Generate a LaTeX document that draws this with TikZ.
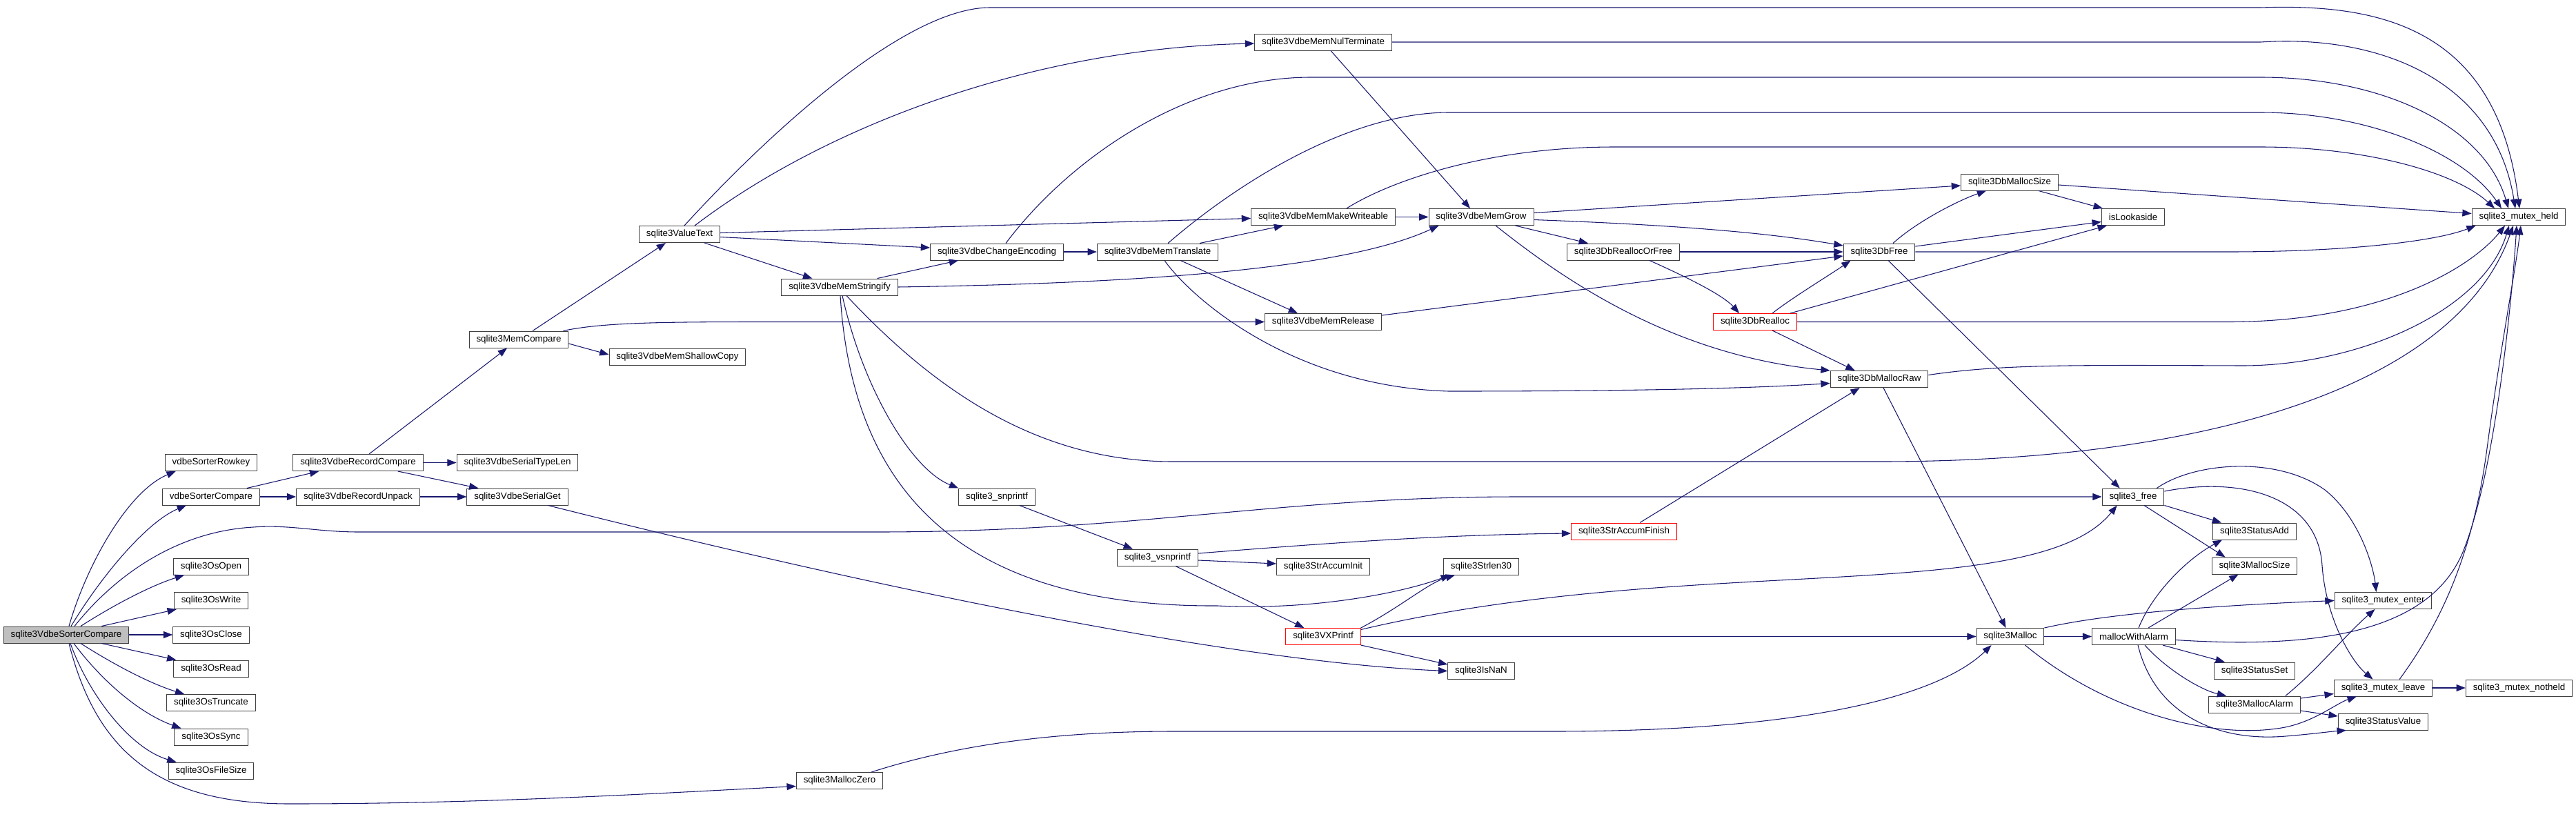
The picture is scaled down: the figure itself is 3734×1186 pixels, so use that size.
\documentclass[tikz,border=0pt]{standalone}
\usepackage{fontspec}
\setmainfont{Liberation Sans}
\usetikzlibrary{arrows.meta,calc}
\definecolor{edgec}{HTML}{191970}
\definecolor{mainfill}{HTML}{BFBFBF}
\definecolor{redb}{HTML}{FF0000}
\definecolor{boxb}{HTML}{404040}
\begin{document}
\begin{tikzpicture}[x=0.75pt,y=-0.75pt,
 box/.style={draw=boxb,line width=0.75pt,fill=white,rectangle,minimum height=18pt,inner xsep=7.8pt,inner ysep=0pt,font=\fontsize{10}{12}\selectfont},
 redbox/.style={box,draw=redb},
 mainbox/.style={box,fill=mainfill},
 e/.style={draw=edgec,line width=0.8pt,-{Triangle[length=10pt,width=7.5pt]}}]
\useasboundingbox[fill=white] (0,0) rectangle (3734,1186);

% nodes
\node[mainbox] (main) at (96,920) {sqlite3VdbeSorterCompare};
\node[box] (rowkey) at (306,670.5) {vdbeSorterRowkey};
\node[box] (sortcmp) at (306,720) {vdbeSorterCompare};
\node[box] (osopen) at (306,821) {sqlite3OsOpen};
\node[box] (oswrite) at (306,870.5) {sqlite3OsWrite};
\node[box] (osclose) at (306,920) {sqlite3OsClose};
\node[box] (osread) at (306,969) {sqlite3OsRead};
\node[box] (ostrunc) at (306,1018.5) {sqlite3OsTruncate};
\node[box] (ossync) at (306,1068) {sqlite3OsSync};
\node[box] (osfsize) at (306,1117) {sqlite3OsFileSize};
\node[box] (reccmp) at (519,670.5) {sqlite3VdbeRecordCompare};
\node[box] (recunp) at (519,720) {sqlite3VdbeRecordUnpack};
\node[box] (typelen) at (750,670.5) {sqlite3VdbeSerialTypeLen};
\node[box] (serget) at (750,720) {sqlite3VdbeSerialGet};
\node[box] (memcmp) at (752,492) {sqlite3MemCompare};
\node[box] (shallow) at (982,517) {sqlite3VdbeMemShallowCopy};
\node[box] (valtext) at (985,339.5) {sqlite3ValueText};
\node[box] (stringify) at (1217,416) {sqlite3VdbeMemStringify};
\node[box] (chenc) at (1445,365) {sqlite3VdbeChangeEncoding};
\node[box] (memtr) at (1678,365) {sqlite3VdbeMemTranslate};
\node[box] (nulterm) at (1918,61) {sqlite3VdbeMemNulTerminate};
\node[box] (mkwrite) at (1918,314.5) {sqlite3VdbeMemMakeWriteable};
\node[box] (memrel) at (1918,466.5) {sqlite3VdbeMemRelease};
\node[box] (snpr) at (1445,720) {sqlite3\_snprintf};
\node[box] (vsnpr) at (1678,808) {sqlite3\_vsnprintf};
\node[box] (accinit) at (1918,821) {sqlite3StrAccumInit};
\node[redbox] (vxpr) at (1918,922.5) {sqlite3VXPrintf};
\node[box] (strlen) at (2147,821) {sqlite3Strlen30};
\node[box] (isnan) at (2147,972.5) {sqlite3IsNaN};
\node[box] (mzero) at (1217,1131.5) {sqlite3MallocZero};
\node[box] (memgrow) at (2147,314.5) {sqlite3VdbeMemGrow};
\node[box] (reorfree) at (2353,365) {sqlite3DbReallocOrFree};
\node[redbox] (dbrealloc) at (2544,466.5) {sqlite3DbRealloc};
\node[redbox] (accfin) at (2354,770) {sqlite3StrAccumFinish};
\node[box] (dbfree) at (2724,365) {sqlite3DbFree};
\node[box] (dbraw) at (2724,549.5) {sqlite3DbMallocRaw};
\node[box] (dbmsize) at (2913,264) {sqlite3DbMallocSize};
\node[box] (malloc) at (2914,922.5) {sqlite3Malloc};
\node[box] (lookaside) at (3092,314.5) {isLookaside};
\node[box] (free) at (3092,720) {sqlite3\_free};
\node[box] (mwa) at (3093,922.5) {mallocWithAlarm};
\node[box] (stadd) at (3268,770) {sqlite3StatusAdd};
\node[box] (msize) at (3268,820) {sqlite3MallocSize};
\node[box] (stset) at (3268,972) {sqlite3StatusSet};
\node[box] (malarm) at (3268,1021) {sqlite3MallocAlarm};
\node[box] (menter) at (3454.5,870.5) {sqlite3\_mutex\_enter};
\node[box] (mleave) at (3454.5,997) {sqlite3\_mutex\_leave};
\node[box] (stval) at (3454.5,1046) {sqlite3StatusValue};
\node[box] (mheld) at (3651,314.5) {sqlite3\_mutex\_held};
\node[box] (notheld) at (3651.5,997) {sqlite3\_mutex\_notheld};

% main fan-out
\draw[e] ($(main.north)+(4,0)$) .. controls (125,820) and (185,712) .. ($(rowkey.south west)+(16,0)$);
\draw[e] ($(main.north)+(7,0)$) .. controls (150,830) and (215,755) .. ($(sortcmp.south west)+(35,0)$);
\draw[e] ($(main.north)+(12,0)$) .. controls (170,830) and (260,770) .. (367,764) .. controls (420,760) and (460,771) .. (520,771) -- (1270,771) .. controls (1650,771) and (1850,720) .. (2200,720) -- (free.west);
\draw[e] ($(main.north)+(21,0)$) .. controls (160,880) and (215,850) .. ($(osopen.south west)+(16,0)$);
\draw[e] ($(main.north east)+(-40,0)$) -- ($(oswrite.south west)+(4,0)$);
\draw[e] (main) -- (osclose);
\draw[e] ($(main.south east)+(-40,0)$) -- ($(osread.north west)+(4,0)$);
\draw[e] ($(main.south)+(21,0)$) .. controls (160,960) and (215,990) .. ($(ostrunc.north west)+(26,0)$);
\draw[e] ($(main.south)+(11,0)$) .. controls (150,990) and (205,1035) .. ($(ossync.north west)+(10,0)$);
\draw[e] ($(main.south)+(6,0)$) .. controls (130,1010) and (190,1085) .. ($(osfsize.north west)+(12,0)$);
\draw[e] ($(main.south)+(4,0)$) .. controls (140,1090) and (230,1165) .. (420,1165) .. controls (700,1165) and (950,1150) .. ($(mzero.west)+(0,8)$);

% record compare group
\draw[e] ($(sortcmp.north east)+(-19,0)$) -- ($(reccmp.south west)+(38,0)$);
\draw[e] (sortcmp) -- (recunp);
\draw[e] (reccmp) -- (typelen);
\draw[e] ($(reccmp.south east)+(-37,0)$) -- ($(serget.north west)+(17,0)$);
\draw[e] (recunp) -- (serget);
\draw[e] ($(reccmp.north)+(16,0)$) -- ($(memcmp.south)+(-17,0)$);
\draw[e] ($(serget.south east)+(-29,0)$) .. controls (1300,860) and (1800,960) .. (isnan.west);

% mem compare
\draw[e] ($(memcmp.north)+(20,0)$) -- ($(valtext.south west)+(39,0)$);
\draw[e] ($(memcmp.north east)+(-8,0)$) .. controls (870,468) and (950,466.5) .. (1100,466.5) -- (memrel.west);
\draw[e] ($(memcmp.east)+(0,6)$) -- ($(shallow.west)+(0,-3)$);

% value text
\draw[e] ($(valtext.south east)+(-23,0)$) -- ($(stringify.north west)+(45,0)$);
\draw[e] ($(valtext.east)+(0,4)$) -- ($(chenc.west)+(0,-6)$);
\draw[e] ($(valtext.east)+(0,-2)$) -- ($(mkwrite.west)+(0,2)$);
\draw[e] ($(valtext.north)+(22,0)$) .. controls (1200,180) and (1500,70) .. ($(nulterm.west)+(0,2)$);
\draw[e] ($(valtext.north)+(7,0)$) .. controls (1080,230) and (1300,11) .. (1435,11) -- (3277,11) .. controls (3450,5) and (3620,40) .. ($(mheld.north)+(1,0)$);

% nul terminate, change encoding, translate, make writeable
\draw[e] (nulterm.east) -- (3277,61) .. controls (3440,50) and (3615,110) .. ($(mheld.north)+(-5,0)$);
\draw[e] ($(nulterm.south)+(11,0)$) -- ($(memgrow.north)+(-16,0)$);
\draw[e] ($(chenc.north)+(13,0)$) .. controls (1550,230) and (1720,112) .. (1900,112) -- (3277,112) .. controls (3450,112) and (3600,180) .. ($(mheld.north)+(-15,0)$);
\draw[e] ($(memtr.north)+(15,0)$) .. controls (1800,260) and (1960,163) .. (2100,163) -- (3277,163) .. controls (3430,163) and (3570,220) .. ($(mheld.north)+(-25,0)$);
\draw[e] ($(mkwrite.north)+(34,0)$) .. controls (2010,265) and (2150,213) .. (2340,213) -- (3277,213) .. controls (3430,213) and (3560,250) .. ($(mheld.north)+(-35,0)$);
\draw[e] (mkwrite) -- (memgrow);
\draw[e] (chenc) -- (memtr);
\draw[e] ($(memtr.north east)+(-27,0)$) -- ($(mkwrite.south west)+(47,0)$);
\draw[e] ($(memtr.south east)+(-55,0)$) -- ($(memrel.north west)+(48,0)$);
\draw[e] ($(memtr.south)+(10,0)$) .. controls (1725,430) and (1870,560) .. (2100,567) .. controls (2400,567) and (2550,562) .. ($(dbraw.west)+(0,6)$);

% stringify
\draw[e] ($(stringify.north east)+(-30,0)$) -- ($(chenc.south west)+(41,0)$);
\draw[e] (stringify.east) .. controls (1700,410) and (1960,385) .. ($(memgrow.south west)+(15,0)$);
\draw[e] ($(stringify.south)+(4,0)$) .. controls (1250,560) and (1320,680) .. (snpr.north west);
\draw[e] ($(stringify.south)+(1,0)$) .. controls (1235,700) and (1380,880) .. (1765,878) .. controls (1900,885) and (2030,860) .. ($(strlen.south west)+(10,0)$);
\draw[e] ($(stringify.south)+(10,0)$) .. controls (1350,560) and (1500,669) .. (1700,669) -- (2725,669) .. controls (3200,669) and (3560,560) .. ($(mheld.south)+(-8,0)$);

% mem release
\draw[e] ($(memrel.north east)+(0,3)$) -- ($(dbfree.west)+(0,6)$);

% mem grow
\draw[e] ($(memgrow.east)+(0,-6)$) -- ($(dbmsize.west)+(0,5)$);
\draw[e] ($(memgrow.east)+(0,4)$) .. controls (2400,325) and (2550,335) .. ($(dbfree.west)+(0,-9)$);
\draw[e] ($(memgrow.south east)+(-27,0)$) -- ($(reorfree.north west)+(31,0)$);
\draw[e] ($(memgrow.south)+(21,0)$) .. controls (2260,400) and (2420,515) .. (dbraw.north west);

% realloc or free, realloc
\draw[e] (reorfree) -- (dbfree);
\draw[e] ($(reorfree.south east)+(-44,0)$) .. controls (2430,395) and (2495,425) .. ($(dbrealloc.north west)+(38,0)$);
\draw[e] ($(dbrealloc.north)+(25,0)$) .. controls (2600,430) and (2650,400) .. ($(dbfree.south west)+(11,0)$);
\draw[e] ($(dbrealloc.north east)+(-10,0)$) -- ($(lookaside.south west)+(8,0)$);
\draw[e] ($(dbrealloc.south)+(25,0)$) -- ($(dbraw.north west)+(36,0)$);
\draw[e] (dbrealloc.east) -- (3230,466.5) .. controls (3450,466.5) and (3580,390) .. ($(mheld.south)+(-20,0)$);

% db free
\draw[e] ($(dbfree.north)+(20,0)$) .. controls (2780,320) and (2840,290) .. ($(dbmsize.south west)+(37,0)$);
\draw[e] ($(dbfree.east)+(0,-8)$) -- ($(lookaside.west)+(0,7)$);
\draw[e] (dbfree.east) -- (3230,365) .. controls (3400,365) and (3530,350) .. ($(mheld.south west)+(6,0)$);
\draw[e] ($(dbfree.south)+(13,0)$) -- ($(free.north west)+(26,0)$);

% db malloc size
\draw[e] ($(dbmsize.south east)+(-29,0)$) -- ($(lookaside.north west)+(2,0)$);
\draw[e] ($(dbmsize.east)+(0,4)$) -- ($(mheld.west)+(0,-5)$);

% db malloc raw, accum finish
\draw[e] ($(dbraw.east)+(0,-6)$) .. controls (2900,528) and (3000,529) .. (3250,530) .. controls (3420,530) and (3600,450) .. ($(mheld.south)+(-14,0)$);
\draw[e] ($(dbraw.south)+(6,0)$) -- ($(malloc.north west)+(43,0)$);
\draw[e] ($(accfin.north)+(23,0)$) -- ($(dbraw.south west)+(43,0)$);

% printf group
\draw[e] ($(snpr.south east)+(-23,0)$) -- ($(vsnpr.north west)+(23,0)$);
\draw[e] ($(vsnpr.east)+(0,-6)$) .. controls (1950,785) and (2100,775) .. ($(accfin.west)+(0,3)$);
\draw[e] ($(vsnpr.east)+(0,4)$) -- ($(accinit.west)+(0,-4)$);
\draw[e] ($(vsnpr.south east)+(-33,0)$) -- ($(vxpr.north west)+(27,0)$);
\draw[e] (vxpr.north east) .. controls (2030,880) and (2070,845) .. ($(strlen.south west)+(17,0)$);
\draw[e] ($(vxpr.east)+(0,-10)$) .. controls (2450,800) and (2950,880) .. ($(free.south west)+(22,0)$);
\draw[e] (vxpr.east) -- (malloc.west);
\draw[e] (vxpr.south east) -- ($(isnan.north west)+(0,3)$);

% malloc zero
\draw[e] ($(mzero.north east)+(-17,0)$) .. controls (1400,1075) and (1550,1060) .. (1700,1060) -- (2250,1060) .. controls (2650,1060) and (2820,1000) .. ($(malloc.south west)+(22,0)$);

% malloc
\draw[e] (malloc.north east) .. controls (3050,890) and (3200,878) .. (menter.west);
\draw[e] (malloc) -- (mwa);
\draw[e] ($(malloc.south east)+(-28,0)$) .. controls (3050,1030) and (3200,1070) .. (3300,1056) .. controls (3350,1050) and (3385,1020) .. ($(mleave.south west)+(33,0)$);

% mallocWithAlarm
\draw[e] ($(mwa.north)+(7,0)$) .. controls (3120,860) and (3170,810) .. ($(stadd.south west)+(14,0)$);
\draw[e] ($(mwa.north)+(21,0)$) -- ($(msize.south west)+(39,0)$);
\draw[e] ($(mwa.south east)+(-19,0)$) -- ($(stset.north west)+(16,0)$);
\draw[e] ($(mwa.south)+(16,0)$) .. controls (3140,970) and (3190,1000) .. ($(malarm.north west)+(26,0)$);
\draw[e] ($(mwa.south)+(6,0)$) .. controls (3125,1040) and (3220,1075) .. (3313,1067) .. controls (3350,1064) and (3380,1060) .. ($(stval.south west)+(12,0)$);
\draw[e] ($(mwa.east)+(0,5)$) .. controls (3350,940) and (3520,920) .. (3570,800) .. controls (3615,690) and (3640,450) .. ($(mheld.south)+(-3,0)$);

% malloc alarm, mutex leave
\draw[e] ($(malarm.north east)+(-22,0)$) .. controls (3360,970) and (3400,920) .. ($(menter.south)+(-12,0)$);
\draw[e] ($(malarm.east)+(0,-9)$) -- ($(mleave.south west)+(0,-4)$);
\draw[e] ($(malarm.east)+(0,9)$) -- ($(stval.west)+(0,-8)$);
\draw[e] (mleave) -- (notheld);
\draw[e] ($(mleave.north east)+(-48,0)$) .. controls (3540,900) and (3585,800) .. (3605,650) .. controls (3625,500) and (3645,400) .. ($(mheld.south)+(3,0)$);

% sqlite3_free
\draw[e] (free.south east) -- ($(stadd.north west)+(13,0)$);
\draw[e] ($(free.south)+(16,0)$) -- ($(msize.north west)+(20,0)$);
\draw[e] ($(free.north east)+(-11,0)$) .. controls (3180,670) and (3300,660) .. (3370,710) .. controls (3420,750) and (3440,820) .. ($(menter.north)+(-10,0)$);
\draw[e] ($(free.east)+(0,-8)$) .. controls (3250,690) and (3360,720) .. (3366,820) .. controls (3372,900) and (3410,960) .. ($(mleave.north)+(-15,0)$);
\end{tikzpicture}
\end{document}
